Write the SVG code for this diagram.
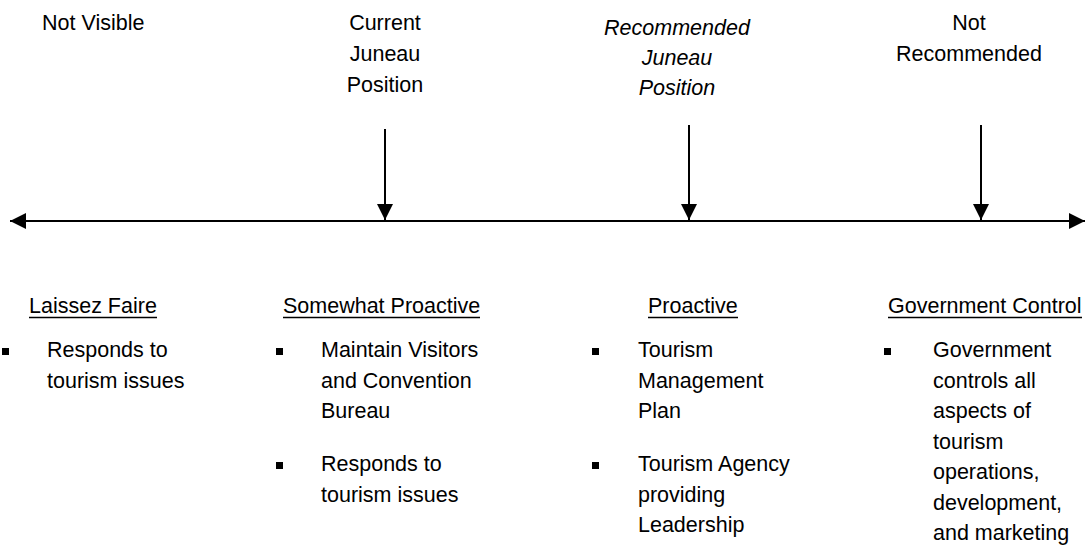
<svg xmlns="http://www.w3.org/2000/svg" width="1089" height="548" viewBox="0 0 1089 548">
<style>
text{font-family:"Liberation Sans",Arial,sans-serif;font-size:21.5px;fill:#000}
.c{text-anchor:middle}
.i{font-style:italic}
.ln{stroke:#000;stroke-width:2;fill:none}
.ul{stroke:#000;stroke-width:1.5}
.b{fill:#000}
</style>
<defs>
<marker id="ah" viewBox="0 0 16 16" refX="16" refY="8" markerWidth="16" markerHeight="16" markerUnits="userSpaceOnUse" orient="auto-start-reverse"><path d="M0,0 L16,8 L0,16 Z" fill="#000"/></marker>
</defs>
<g id="connectors">
<line class="ln" x1="10" y1="221" x2="1085" y2="221" marker-start="url(#ah)" marker-end="url(#ah)"/>
<line class="ln" x1="385" y1="129" x2="385" y2="220" marker-end="url(#ah)"/>
<line class="ln" x1="689" y1="125" x2="689" y2="220" marker-end="url(#ah)"/>
<line class="ln" x1="981" y1="125" x2="981" y2="220" marker-end="url(#ah)"/>
</g>
<g id="not-visible"><text x="42" y="30">Not Visible</text></g>
<g id="current"><text class="c" x="385" y="30">Current</text><text class="c" x="385" y="61">Juneau</text><text class="c" x="385" y="92">Position</text></g>
<g id="recommended"><text class="c i" x="677" y="35">Recommended</text><text class="c i" x="677" y="65">Juneau</text><text class="c i" x="677" y="95">Position</text></g>
<g id="not-recommended"><text class="c" x="969" y="30">Not</text><text class="c" x="969" y="61">Recommended</text></g>
<g id="laissez-faire">
<text x="29" y="313">Laissez Faire</text><line class="ul" x1="29" y1="317.5" x2="157" y2="317.5"/>
<rect class="b" x="2" y="348" width="7" height="7"/>
<text x="47" y="357">Responds to</text><text x="47" y="387.5">tourism issues</text>
</g>
<g id="somewhat-proactive">
<text x="283" y="313">Somewhat Proactive</text><line class="ul" x1="283" y1="317.5" x2="480" y2="317.5"/>
<rect class="b" x="276" y="348" width="7" height="7"/>
<text x="321" y="357">Maintain Visitors</text><text x="321" y="387.5">and Convention</text><text x="321" y="418">Bureau</text>
<rect class="b" x="276" y="462" width="7" height="7"/>
<text x="321" y="471">Responds to</text><text x="321" y="501.5">tourism issues</text>
</g>
<g id="proactive">
<text x="648" y="313">Proactive</text><line class="ul" x1="648" y1="317.5" x2="738" y2="317.5"/>
<rect class="b" x="592" y="348" width="7" height="7"/>
<text x="638" y="357">Tourism</text><text x="638" y="387.5">Management</text><text x="638" y="418">Plan</text>
<rect class="b" x="592" y="462" width="7" height="7"/>
<text x="638" y="471">Tourism Agency</text><text x="638" y="501.5">providing</text><text x="638" y="532">Leadership</text>
</g>
<g id="government-control">
<text x="888" y="313">Government Control</text><line class="ul" x1="888" y1="317.5" x2="1082" y2="317.5"/>
<rect class="b" x="884" y="348" width="7" height="7"/>
<text x="933" y="357">Government</text><text x="933" y="387.5">controls all</text><text x="933" y="418">aspects of</text><text x="933" y="448.5">tourism</text><text x="933" y="479">operations,</text><text x="933" y="509.5">development,</text><text x="933" y="540">and marketing</text>
</g>
</svg>
